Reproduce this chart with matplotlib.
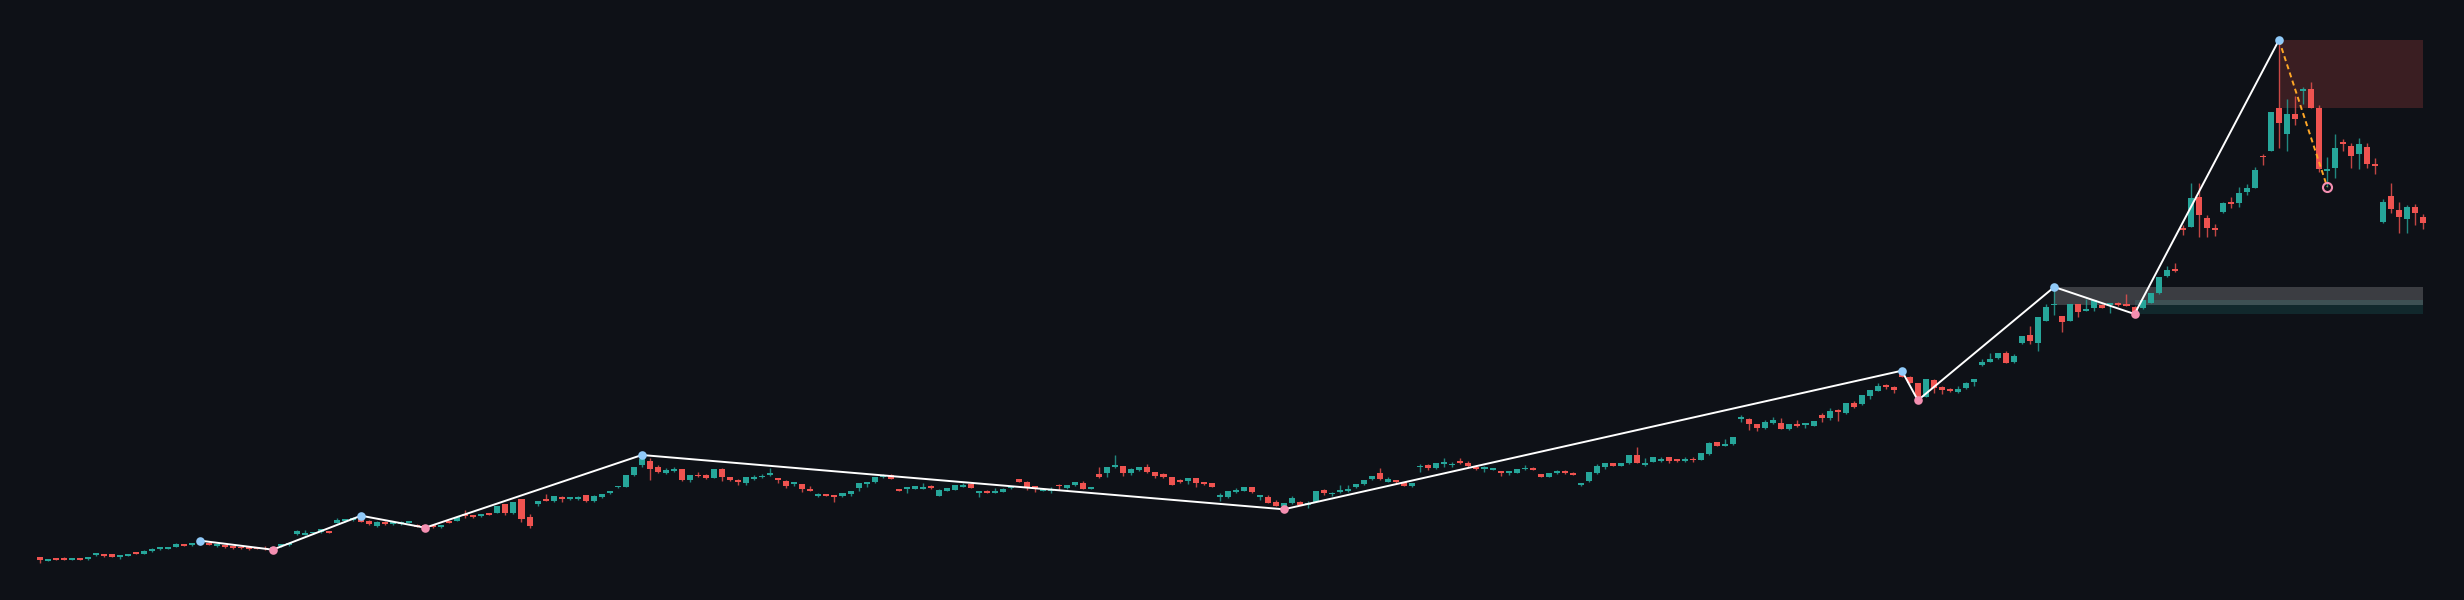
import numpy as np
import matplotlib
matplotlib.use("Agg")
import matplotlib.pyplot as plt
from matplotlib.patches import Rectangle

# candle data (oldest -> newest), one value per bar
opens = [43, 39.5, 42, 41.5, 40.5, 42, 41, 45, 46, 46,
         43, 44.5, 48, 46.5, 49, 51, 51.5, 53.5, 56, 55,
         56, 57.3, 54, 55, 53.7, 53.3, 52.7, 52.3, 52.3, 51,
         54, 54.7, 66, 65.3, 66.7, 68, 69, 77.3, 78.7, 80,
         82.7, 78.7, 74.3, 78.3, 75.7, 76, 77.3, 75.5, 74, 74,
         73, 78, 79, 85, 84, 84, 86, 87.3, 96, 86.7,
         100.7, 83.3, 96, 99.3, 99, 103.3, 100.7, 101, 104.7, 98.7,
         103.3, 106.7, 112.7, 113.3, 124.7, 134.7, 139.3, 132.7, 127, 129,
         130.7, 120, 124.7, 125, 122.3, 131.3, 123, 120.3, 117.3, 121,
         122.7, 125, 121, 119, 116, 115.7, 111, 104.3, 106, 105,
         104.3, 106.3, 112, 116, 117.7, 122.7, 124.7, 111, 111, 111.3,
         111.3, 113, 104.3, 109.3, 110.3, 113.3, 116.3, 107, 108, 107.3,
         108.3, 111.7, 120.7, 118, 113.3, 109.3, 109.5, 115, 111.7, 114.7,
         116.7, 111.3, 126, 126.7, 133.3, 134, 126.7, 130, 133.3, 128,
         125.7, 122.7, 120, 119.3, 122, 117.3, 117, 103.3, 103.3, 107.7,
         109.3, 113, 103, 103.3, 98.3, 94, 96.7, 98.3, 95.5, 98.3,
         110, 105.7, 108, 108.7, 113, 115.7, 120.7, 126.7, 118, 120,
         117.7, 114, 132.7, 134.7, 132, 136, 134.7, 139, 137.3, 133.3,
         131, 130, 128.7, 127, 127.3, 130.7, 132, 126, 123.3, 126.7,
         129.3, 127.3, 115.3, 119, 127.3, 133.3, 136.7, 134.3, 136.7, 145,
         135, 138.3, 139.3, 142.7, 140, 139.3, 140.3, 140, 146, 158,
         154.3, 155.7, 181, 181.3, 175.7, 171.7, 177, 177.3, 170.7, 175.7,
         175, 174.3, 185, 182.3, 189.3, 186.7, 197.3, 196, 204.3, 209.3,
         215, 213.3, 228.3, 222.7, 216.7, 203.3, 220, 213.3, 211, 208,
         211.7, 217.7, 235, 238.3, 241.7, 247.3, 238.3, 256.7, 265.3, 257.3,
         279.3, 294.7, 284, 279.3, 296, 289.3, 291.7, 295, 295, 297,
         295, 293.3, 291.7, 297.3, 306.7, 324, 330, 371.7, 373.3, 403.3,
         381.7, 371.7, 387.7, 397.7, 396.7, 407.7, 412.3, 444, 449.3, 492.3,
         465.7, 486, 509.3, 511, 492.3, 429, 432.3, 458.3, 454, 446,
         453.3, 436, 377.7, 404, 390, 381, 393, 383.3]
highs = [43.5, 40, 42.5, 43.5, 42.5, 42.5, 42.5, 47.5, 46.5, 46.5,
         45.5, 45.5, 48.5, 50, 52, 53.5, 53, 57, 56.5, 56.5,
         59.3, 58, 56, 55.5, 54, 53.5, 53, 52.5, 54, 53,
         56, 57.5, 70, 70, 68.5, 71, 69.5, 81.7, 81, 83,
         84.3, 80, 78.7, 78.7, 78, 79.3, 79.5, 76, 74.5, 74.5,
         75, 78.5, 84, 90, 84.5, 85.5, 87, 94.5, 96.5, 98.3,
         101, 86, 99.5, 106, 104.5, 103.7, 103, 104.3, 105, 105,
         105.7, 109.3, 114, 124.7, 133.3, 145, 141.7, 135, 131.7, 133.3,
         131, 125.3, 128.3, 126, 131, 131.7, 123.5, 120.7, 122.7, 125,
         125.7, 131.7, 121.7, 120, 118.3, 116, 114.3, 107, 106.3, 105.3,
         107, 109.5, 117.3, 118.3, 123, 126, 126, 111.5, 112.3, 114,
         116.7, 115, 110.7, 111.7, 115, 116.7, 116.7, 108.3, 110, 111.7,
         111.7, 113, 121.3, 119, 113.5, 110.7, 112.7, 115.7, 115, 118,
         118.7, 113.3, 133, 132.7, 144.7, 134.3, 132, 133.3, 136, 128.3,
         127, 123, 120.7, 121.7, 122.3, 118, 117.3, 106.7, 109, 111.7,
         113.3, 113.5, 104.7, 105, 100, 96.7, 104, 99, 99, 109.3,
         111, 108.3, 115, 115, 116, 120.3, 124.3, 131.7, 122.7, 120.3,
         118, 117.3, 136.3, 136, 137.3, 141.7, 138.3, 141.7, 138.7, 134.7,
         134, 132, 129.3, 128.7, 131.3, 134.7, 132.7, 126.3, 126.7, 130,
         130, 127.7, 117, 127.7, 136, 137.3, 137.3, 137, 145, 153.3,
         141.7, 143, 143.3, 143, 141, 143.3, 142.7, 147.3, 158, 158.5,
         161.3, 163.3, 185, 181.7, 176, 180, 182.7, 181.7, 175.7, 180,
         176.7, 179, 186.7, 192.3, 190.7, 196.7, 199, 205, 210, 216.7,
         215.7, 213.7, 229.3, 224, 217.3, 221.3, 220.7, 214, 212, 214.3,
         217.7, 221, 240.7, 247.3, 247.3, 249, 246, 264, 274, 282.7,
         296, 313, 284.5, 296.5, 296.5, 300.7, 300, 295.7, 297.3, 298.3,
         306, 294, 300, 307.3, 323.3, 334, 337.3, 375, 416.7, 416.7,
         385, 375.7, 398.3, 403.3, 413.3, 416, 433.3, 445.7, 488.3, 560,
         501, 504, 512.7, 518, 494.7, 442.7, 466, 460.7, 457.3, 462,
         457.3, 441.7, 400.7, 417.3, 397.7, 395, 396, 386]
lows = [37, 39.5, 40.5, 40.5, 40, 40.5, 40.5, 44, 43.5, 43,
        41.5, 44.5, 46, 46, 48.5, 50.5, 51, 53, 54.5, 54.5,
        55.5, 55, 53.5, 52.5, 51.5, 51.5, 50.5, 51, 50.5, 50.3,
        53.5, 54, 65.5, 65, 66.5, 67.5, 67, 76.7, 78.5, 79.5,
        78, 75.3, 73.3, 75.5, 75.5, 75.5, 77, 73, 72.3, 72.5,
        72.5, 77, 78.7, 82.5, 82.5, 83.5, 85, 87, 85, 86,
        78.3, 71.7, 94.3, 99, 98.5, 97.7, 100, 100, 98.5, 98.3,
        101.7, 106, 112.3, 113, 124.3, 133, 120, 127.3, 125.7, 128,
        119.3, 118, 123, 121, 122, 118.7, 119.5, 115.3, 115, 120,
        122, 124.5, 116.7, 111.7, 114, 108.3, 109, 103.5, 104, 98.3,
        103, 104.3, 109.3, 113.3, 117, 122, 121, 109, 107.3, 111,
        111, 111.3, 104, 109, 110, 112.7, 111.7, 103.3, 106.7, 106.7,
        108, 111.3, 117.7, 110, 108.3, 109, 107.3, 110, 111.3, 114.3,
        110.7, 111, 122.3, 123.3, 131.7, 124, 125.3, 129.3, 127.3, 121.7,
        122, 114.7, 116.7, 115.7, 113.3, 115.3, 113.3, 99, 102, 106.7,
        109, 107.3, 100, 96.7, 94, 90.7, 95.7, 95, 91.7, 98,
        105, 104.3, 106.7, 108, 112.3, 115, 119.7, 120, 117.7, 117.3,
        114.3, 113.3, 128.3, 130, 130.7, 133.3, 132.7, 136, 133.3, 130,
        128.3, 129.7, 124, 125.3, 126.7, 130, 130, 123.3, 123, 126.3,
        126.3, 124.7, 114, 118.3, 126, 130.7, 134, 134, 136.3, 136.7,
        134, 138, 138.3, 136.7, 138, 138.3, 138.3, 139.7, 145.3, 154,
        153.7, 155, 178.3, 170, 169.3, 171, 176, 170.7, 170.3, 172.7,
        171.7, 174, 178, 180, 179.3, 186, 191.7, 195, 200.7, 208.7,
        210.7, 207.3, 223, 217, 199.7, 203, 207.3, 205.7, 208.3, 206.7,
        211, 214, 233.7, 237.7, 241, 237.3, 236.7, 256, 256, 249.3,
        278.7, 285, 268.3, 279, 283.3, 289, 289.3, 291.7, 287.3, 294,
        294, 286, 291, 296.7, 306, 323.3, 328.3, 365, 373.3, 362.7,
        362.7, 364, 387.3, 391.7, 392.7, 405, 412, 435, 449, 452.3,
        449.3, 475.3, 496, 492.3, 428.3, 413.3, 421.7, 449.3, 432.3, 431,
        432.3, 425.7, 376.7, 386.7, 367.3, 367.3, 374.7, 371.3]
closes = [40, 40, 40.5, 40.5, 42, 40.5, 42.5, 46.5, 44.5, 43.5,
          44.5, 45, 46.5, 49, 51.5, 52.5, 52.5, 56, 54.5, 56,
          58, 55.3, 55.7, 53, 52, 51.7, 51, 51.3, 50.7, 52.5,
          55.7, 57.3, 69.3, 67.3, 68.3, 70.7, 67.3, 80, 80.7, 82.5,
          78.3, 76.3, 78.3, 75.7, 77.7, 78, 79, 73.5, 73, 73,
          74, 77.3, 83.3, 84.3, 83, 85, 85.5, 94, 87.3, 98,
          81.3, 74, 99.3, 99, 104, 100.7, 102.7, 102.5, 99.3, 104.3,
          105.7, 109.3, 113.7, 124.7, 133.3, 140.7, 131, 128, 129.7, 130.7,
          120, 125, 123.7, 122.3, 130.7, 123.3, 120, 117.7, 122.7, 122,
          124, 126.3, 120, 114.3, 117, 111, 109.3, 106.3, 104.3, 103.3,
          106.7, 109, 116.7, 118.3, 122.7, 125.3, 121.3, 109.3, 112, 113.7,
          112, 112, 110.3, 111.7, 114.7, 115, 112, 108, 107, 108.3,
          111.3, 112.7, 118, 111.7, 112, 110.7, 111, 113.7, 115, 118,
          111.3, 113.3, 122.7, 132.7, 135, 126.7, 131.3, 133.3, 128.3, 124.3,
          123.3, 115, 118, 121.7, 117.3, 116, 113.3, 105.3, 109, 110,
          113.3, 107.7, 104, 96.7, 94, 96.7, 102.3, 95, 97, 109.3,
          106.7, 107, 110, 111.3, 115.7, 120, 124, 120.7, 120.7, 117.7,
          114.3, 117.3, 134, 132, 137.3, 137.3, 136, 137.3, 133.7, 130.7,
          132, 132, 126.7, 128, 131.3, 132, 130, 123.3, 126.7, 129.3,
          126.7, 125, 116.7, 127.7, 134, 137.3, 134, 136.7, 145, 136.7,
          137, 142.7, 141, 139.3, 139, 141, 139.7, 146.7, 157.3, 154.3,
          155.7, 163.3, 182, 176, 171.7, 178.3, 180, 170.7, 175.7, 174.3,
          175.7, 179, 181.7, 189, 188, 196.7, 193.3, 205, 210, 214.3,
          213.3, 210, 223.3, 217.3, 203.3, 220.7, 211.7, 210, 209, 211,
          217.3, 221, 238.3, 240.7, 246.7, 237.3, 244, 264, 258.7, 282.7,
          292.7, 295, 278.3, 296, 288.3, 290.7, 300, 292.3, 296.7, 295.3,
          294.3, 288.3, 300, 307.3, 323.3, 330, 329, 370, 401.7, 385,
          372.3, 370, 397.3, 395.7, 407.3, 412.3, 430, 442.7, 488.3, 477.3,
          486, 480.7, 510.7, 492.3, 431, 430, 451.7, 456, 444.3, 456,
          436, 434.3, 397.7, 390.7, 382.7, 392.7, 386.7, 377.3]

# confirmed zigzag pivots (bar index, 'H' = swing high, 'L' = swing low)
pivot_idx = [20, 29, 40, 48, 75, 155, 232, 234, 251, 261, 279]
pivot_kind = ['H', 'L', 'H', 'L', 'H', 'L', 'H', 'L', 'H', 'L', 'H']
# last, not yet confirmed swing low
pending_idx = 285
pending_kind = 'L'

# zones: (start bar, bottom, top)
broken_supply = [(251, 295, 313)]
active_supply = [(279, 492.3, 560)]
active_demand = [(261, 286, 300)]

bg = '#0e1117'
up_col = '#26a69a'
down_col = '#ef5350'

o = np.array(opens)
h = np.array(highs)
l = np.array(lows)
c = np.array(closes)
x = np.arange(len(o))
last = x[-1]

fig = plt.figure(figsize=(24.64, 6), dpi=100, facecolor=bg)
ax = fig.add_axes([0, 0, 1, 1])
ax.set_facecolor(bg)

# zones first, behind everything
for s, b, t in active_demand:
    ax.add_patch(Rectangle((s, b), last - s, t - b, facecolor=up_col, alpha=0.16,
                           edgecolor='none', zorder=1))
for s, b, t in broken_supply:
    ax.add_patch(Rectangle((s, b), last - s, t - b, facecolor='white', alpha=0.19,
                           edgecolor='none', zorder=1.1))
for s, b, t in active_supply:
    ax.add_patch(Rectangle((s, b), last - s, t - b, facecolor=down_col, alpha=0.2,
                           edgecolor='none', zorder=1))

# candles
up = c >= o
cols = np.where(up, up_col, down_col)
ax.vlines(x, l, h, colors=cols, linewidth=1.0, alpha=0.8, zorder=2)
body_lo = np.minimum(o, c)
body_h = np.maximum(np.abs(c - o), 1.6)
ax.bar(x, body_h, bottom=body_lo, width=0.75, color=cols, edgecolor='none', zorder=3)

# zigzag
piv_y = [h[i] if k == 'H' else l[i] for i, k in zip(pivot_idx, pivot_kind)]
ax.plot(pivot_idx, piv_y, color='white', linewidth=1.4, zorder=4, solid_capstyle='round')
for i, k, yv in zip(pivot_idx, pivot_kind, piv_y):
    ax.plot(i, yv, 'o', markersize=6.2, color='#90caf9' if k == 'H' else '#f48fb1',
            markeredgewidth=0, zorder=5)

pend_y = l[pending_idx] if pending_kind == 'L' else h[pending_idx]
ax.plot([pivot_idx[-1], pending_idx], [piv_y[-1], pend_y], color='#ffa726',
        linewidth=1.4, linestyle=(0, (2.6, 1.8)), zorder=4)
ax.plot(pending_idx, pend_y, 'o', markersize=6.5, markerfacecolor='none',
        markeredgecolor='#f48fb1', markeredgewidth=1.5, zorder=5)

ax.set_xlim(-40 / 8.025, (2464 - 40) / 8.025)
ax.set_ylim(0, 600)
ax.axis('off')

fig.savefig('out.png', dpi=100, facecolor=bg)
